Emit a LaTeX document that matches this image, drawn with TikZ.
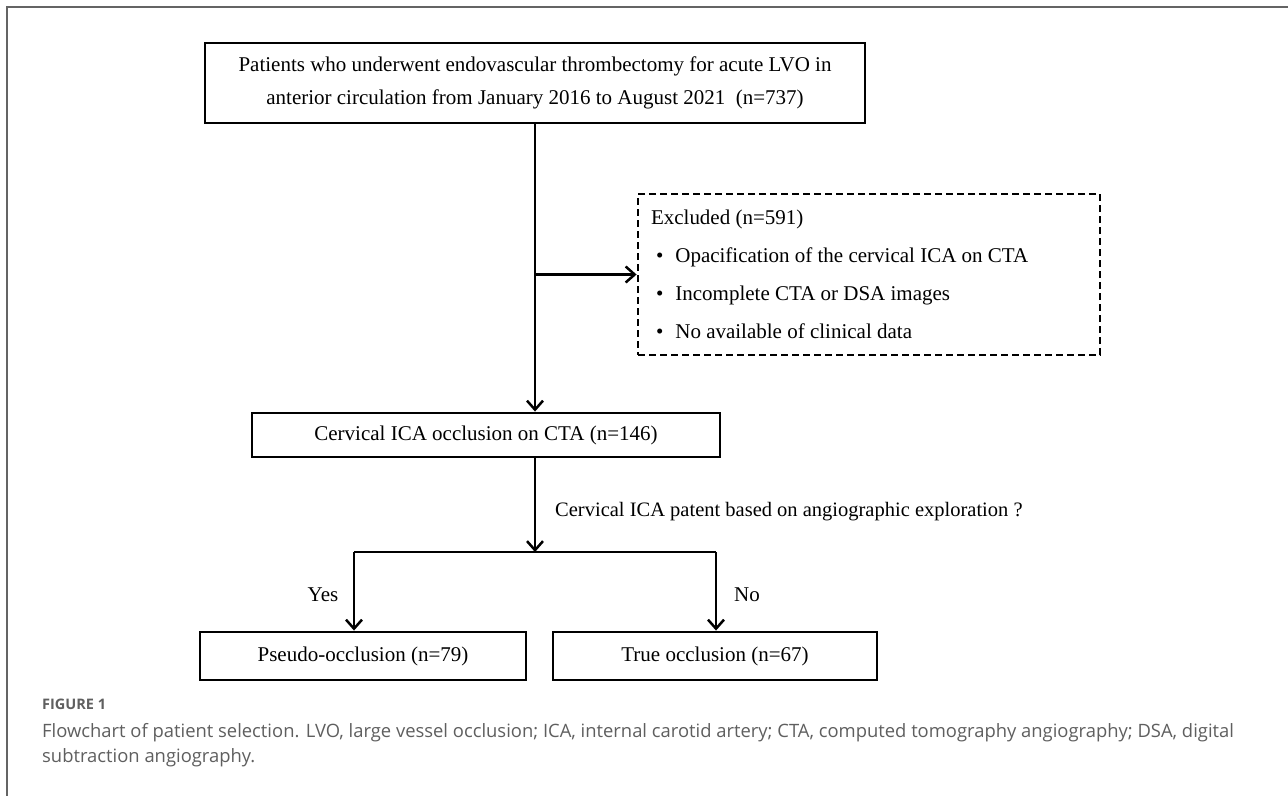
\documentclass[tikz,border=0pt]{standalone}
\usepackage{fontspec}
\setmainfont{Liberation Serif}
\newfontfamily\capfont{Open Sans}
\usetikzlibrary{arrows.meta,positioning}
\definecolor{framegray}{RGB}{100,100,100}
\definecolor{capgray}{RGB}{95,95,95}

\begin{document}
\begin{tikzpicture}[x=1pt, y=-1pt,
    box/.style={rectangle, draw, line width=2.9pt, inner sep=0pt, font=\fontsize{21}{25}\selectfont},
    dashbox/.style={box, dash pattern=on 7pt off 4pt},
    line/.style={draw, line width=2.5pt, -{Straight Barb[length=9pt,width=16pt,line width=2.5pt]}},
    plain/.style={draw, line width=2.5pt},
    lbl/.style={font=\fontsize{21}{25}\selectfont, inner sep=0pt},
    captxt/.style={font=\capfont\fontsize{18.4}{20}\selectfont, text=capgray, anchor=west, inner sep=0pt}]
    \fill[white] (0,0) rectangle (1288,796);
    \useasboundingbox (0,0) rectangle (1288,796);
    \draw[framegray, line width=2pt] (1288,7) -- (7,7) -- (7,796);

    % flowchart boxes
    \node [box, minimum width=660pt, minimum height=80pt, align=flush center, font=\fontsize{21}{33}\selectfont] (top) at (535,83)
        {Patients who underwent endovascular thrombectomy for acute LVO in\\anterior circulation from January 2016 to August 2021~~(n=737)};
    \node [dashbox, minimum width=462pt, minimum height=161pt, inner xsep=12pt, text width=436pt, align=flush left, font=\fontsize{21}{38}\selectfont] (excl) at (869,274.5)
        {Excluded (n=591)\\
        \hspace*{5pt}\textbullet\hspace{12pt}Opacification of the cervical ICA on CTA\\
        \hspace*{5pt}\textbullet\hspace{12pt}Incomplete CTA or DSA images\\
        \hspace*{5pt}\textbullet\hspace{12pt}No available of clinical data};
    \node [box, minimum width=468pt, minimum height=44pt] (cerv) at (486,435) {Cervical ICA occlusion on CTA (n=146)};
    \node [box, minimum width=326pt, minimum height=48pt] (pseudo) at (363,656) {Pseudo-occlusion (n=79)};
    \node [box, minimum width=324pt, minimum height=48pt] (truocc) at (715,656) {True occlusion (n=67)};

    \coordinate (split) at (535,552);
    \coordinate (lbr) at (354,552);
    \coordinate (rbr) at (716,552);

    % connectors
    \path [line] (top.south) -- (top.south |- cerv.north);
    \path [line] (top.south |- excl.west) -- (excl.west);
    \path [line] (top.south |- cerv.south) -- (split);
    \path [plain] (lbr) -- (rbr);
    \path [line] (lbr) -- (lbr |- pseudo.north);
    \path [line] (rbr) -- (rbr |- truocc.north);

    % labels
    \node [lbl, anchor=west, font=\fontsize{20.5}{25}\selectfont] (ques) at (555,512) {Cervical ICA patent based on angiographic exploration ?};
    \node [lbl] (yes) at (323,595) {Yes};
    \node [lbl] (no) at (747,595) {No};

    % caption
    \node [captxt, font=\capfont\bfseries\fontsize{14.5}{16}\selectfont] (fig) at (42,704) {FIGURE 1};
    \node [captxt] (cap1) at (42,733) {Flowchart of patient selection. LVO, large vessel occlusion; ICA, internal carotid artery; CTA, computed tomography angiography; DSA, digital};
    \node [captxt] (cap2) at (42,758) {subtraction angiography.};
\end{tikzpicture}
\end{document}
